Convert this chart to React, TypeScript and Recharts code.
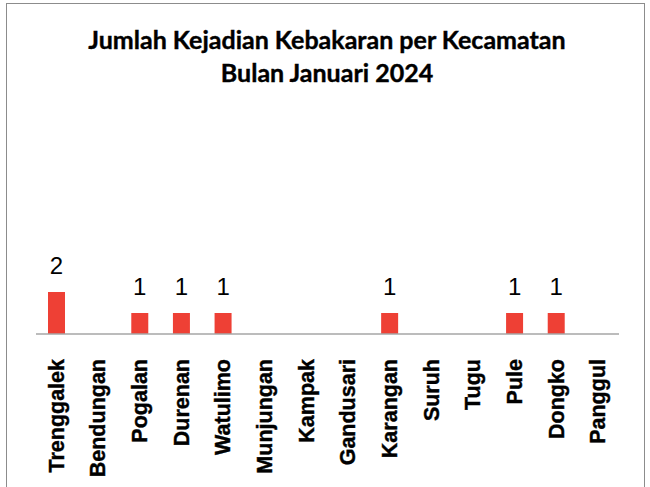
import { Bar, BarChart, LabelList, XAxis, YAxis } from "recharts";

const kecamatan = [
  "Trenggalek",
  "Bendungan",
  "Pogalan",
  "Durenan",
  "Watulimo",
  "Munjungan",
  "Kampak",
  "Gandusari",
  "Karangan",
  "Suruh",
  "Tugu",
  "Pule",
  "Dongko",
  "Panggul",
];
const jumlahKejadian = [2, 0, 1, 1, 1, 0, 0, 0, 1, 0, 0, 1, 1, 0];
const judul = ["Jumlah Kejadian Kebakaran per Kecamatan", "Bulan Januari 2024"];

const data = kecamatan.map((name, i) => ({ name, value: jumlahKejadian[i] }));

const TickVertical = ({ x, y, payload }: any) => (
  <text
    transform={`translate(${x + 7}, ${y + 17}) rotate(-90)`}
    textAnchor="end"
    fontFamily="'Liberation Sans', Arial, sans-serif"
    fontWeight="bold"
    fontSize={21.5}
    fill="#000"
    stroke="#000"
    strokeWidth={0.4}
  >
    {payload.value}
  </text>
);

const NilaiLabel = ({ x, y, width, value }: any) => {
  if (!value) return null;
  return (
    <text
      x={x + width / 2}
      y={y - 18}
      textAnchor="middle"
      fontFamily="'Liberation Sans', Arial, sans-serif"
      fontSize={24}
      fill="#000"
    >
      {value}
    </text>
  );
};

export default function App() {
  return (
    <div style={{ position: "absolute", left: 0, top: 0, width: 650, height: 487, overflow: "hidden", background: "#fff" }}>
      <div
        style={{
          position: "absolute",
          left: 6,
          top: 3,
          width: 639,
          height: 520,
          border: "1.5px solid #8c8c8c",
          boxSizing: "border-box",
        }}
      />
      {judul.map((t, i) => (
        <div
          key={t}
          style={{
            position: "absolute",
            left: 0,
            width: 654,
            top: 24 + i * 33,
            textAlign: "center",
            fontFamily: "Lato, 'Open Sans', sans-serif",
            fontWeight: 700,
            fontSize: 25,
            lineHeight: "30px",
            color: "#000",
            WebkitTextStroke: "0.4px #000",
          }}
        >
          {t}
        </div>
      ))}
      <div style={{ position: "absolute", left: 0, top: 0 }}>
        <BarChart width={650} height={487} data={data} margin={{ top: 124, right: 31, bottom: 0, left: 36 }} barSize={17}>
          <XAxis
            dataKey="name"
            interval={0}
            height={153}
            tickLine={false}
            axisLine={{ stroke: "#a6a6a6", strokeWidth: 1.5 }}
            tick={<TickVertical />}
          />
          <YAxis hide domain={[0, 10]} />
          <Bar dataKey="value" fill="#ee4035" isAnimationActive={false}>
            <LabelList dataKey="value" content={<NilaiLabel />} />
          </Bar>
        </BarChart>
      </div>
    </div>
  );
}
